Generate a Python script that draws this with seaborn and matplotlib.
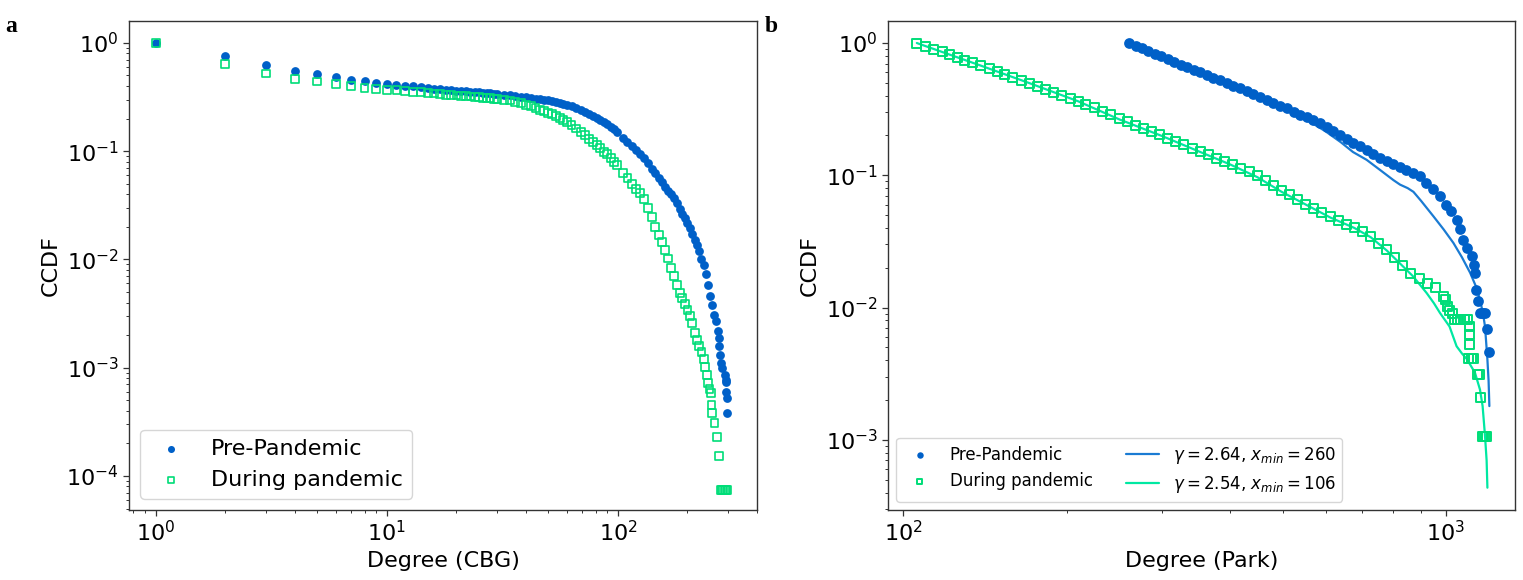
import matplotlib
matplotlib.use("Agg")
import matplotlib.pyplot as plt
import matplotlib.ticker as ticker
import seaborn as sns

BLUE = "#0060c8"
GREEN = "#00dd78"
BLUE_LINE = "#1a7bd3"
GREEN_LINE = "#00e8a2"

# panel a - CBG degree CCDF
cbg_deg_pre = [1, 2, 3, 4, 5, 6, 7, 8, 9, 10, 11, 12, 13, 14, 15, 16, 17, 18, 19, 20,
               21, 22, 23, 24, 25, 26, 27, 28, 29, 30, 32, 34, 36, 38, 40, 42, 44, 46, 48,
               50, 52, 54, 56, 58, 60, 63, 66, 69, 72, 75, 78, 81, 84, 87, 90, 93, 96, 99,
               105, 110, 115, 120, 125, 130, 135, 140, 145, 150, 155, 160,
               165, 170, 175, 180, 185, 190, 195, 200, 205, 210, 215, 220, 225, 230, 235,
               240, 245, 250, 255, 260, 265, 270, 273, 275, 277, 279, 281, 290, 293, 294,
               295, 296, 298]
cbg_ccdf_pre = [1.0, 0.758, 0.626, 0.555, 0.517, 0.485, 0.458, 0.443, 0.430, 0.420, 0.412,
                0.404, 0.396, 0.390, 0.385, 0.379, 0.373, 0.369, 0.365, 0.362,
                0.359, 0.357, 0.354, 0.352, 0.350, 0.348, 0.345, 0.343, 0.340, 0.338, 0.333,
                0.329, 0.324, 0.319, 0.315, 0.311, 0.306, 0.302, 0.298, 0.294, 0.289, 0.284,
                0.278, 0.273, 0.268, 0.260, 0.251, 0.241, 0.230, 0.220, 0.211, 0.203, 0.195,
                0.187, 0.178, 0.168, 0.159, 0.149,
                0.133, 0.122, 0.112, 0.103, 0.095, 0.087, 0.077,
                0.069, 0.063, 0.057, 0.052, 0.047, 0.043, 0.040, 0.037, 0.033, 0.029, 0.0265,
                0.024, 0.0215, 0.0195, 0.017, 0.015, 0.0135, 0.012, 0.0102, 0.0088, 0.0074,
                0.0058, 0.0046, 0.0038, 0.0031, 0.0027, 0.0022, 0.0019, 0.0016, 0.0013,
                0.0011, 0.0010, 0.00085, 0.00077, 0.00074, 0.00060, 0.00053, 0.00038]

cbg_deg_dur = [1, 2, 3, 4, 5, 6, 7, 8, 9, 10, 11, 12, 13, 14, 15, 16, 17, 18, 19, 20,
               21, 22, 23, 24, 25, 26, 27, 28, 29, 30, 32, 34, 36, 38, 40, 42, 44, 46, 48,
               50, 52, 54, 56, 58, 60, 63, 66, 69, 72, 75, 78, 81, 84, 87, 90, 93, 96, 99,
               105, 110, 115, 120, 125, 130, 135, 140, 145, 150, 155, 160,
               165, 170, 175, 180, 185, 190, 195, 200, 205, 210, 215, 220, 225, 230, 235,
               238, 242, 246, 249, 252, 254, 256, 262, 269, 274, 278, 282, 286, 290, 294, 298]
cbg_ccdf_dur = [1.0, 0.644, 0.521, 0.468, 0.440, 0.415, 0.398, 0.386, 0.378, 0.370, 0.366,
                0.360, 0.355, 0.350, 0.346, 0.341, 0.336, 0.333, 0.330, 0.327,
                0.325, 0.322, 0.320, 0.317, 0.315, 0.312, 0.310, 0.307, 0.305, 0.303, 0.299,
                0.294, 0.285, 0.276, 0.268, 0.260, 0.251, 0.242, 0.233, 0.226, 0.219, 0.210,
                0.202, 0.194, 0.186, 0.173, 0.162, 0.151, 0.140, 0.130, 0.122, 0.115, 0.107,
                0.099, 0.094, 0.087, 0.079, 0.074,
                0.063, 0.056, 0.050, 0.045, 0.041, 0.036, 0.030,
                0.0245, 0.020, 0.0168, 0.0145, 0.0122, 0.0102, 0.0083, 0.0070, 0.0058, 0.0049,
                0.0044, 0.0039, 0.0034, 0.0030, 0.0026, 0.0021, 0.0018, 0.0016, 0.0014, 0.0012,
                0.00102, 0.00085, 0.00072, 0.00064, 0.00058, 0.00045, 0.00038, 0.00031,
                0.00023, 0.000153, 7.4e-5, 7.4e-5, 7.4e-5, 7.4e-5, 7.4e-5, 7.4e-5]

# panel b - park degree CCDF
park_deg_pre = [261, 268, 275, 283, 291, 299, 307, 316, 325, 334, 343, 353, 363, 373, 384,
                395, 406, 418, 430, 442, 455, 468, 481, 495, 509, 524, 539, 554, 570, 586,
                603, 620, 638, 656, 675, 694, 714, 734, 755, 777, 799, 822, 845, 869, 894,
                920, 946, 973, 1000, 1020, 1046, 1060, 1076, 1095, 1115, 1125, 1131, 1138,
                1145, 1155, 1163, 1171, 1178, 1189, 1202]
park_ccdf_pre = [1.0, 0.956, 0.914, 0.870, 0.830, 0.792, 0.757, 0.720, 0.687, 0.656, 0.628,
                 0.599, 0.572, 0.547, 0.522, 0.498, 0.476, 0.454, 0.434, 0.414, 0.393, 0.373,
                 0.355, 0.337, 0.320, 0.303, 0.288, 0.274, 0.260, 0.247, 0.231, 0.216, 0.202,
                 0.189, 0.177, 0.166, 0.155, 0.145, 0.136, 0.128, 0.121, 0.115, 0.109, 0.1035,
                 0.098, 0.0877, 0.0783, 0.0698, 0.0598, 0.0535, 0.0461, 0.0394, 0.0326,
                 0.0282, 0.0244, 0.0209, 0.0183, 0.0137, 0.0112, 0.0091, 0.0091, 0.0091,
                 0.0091, 0.0069, 0.0046]

park_deg_dur = [106, 110, 114, 118, 122, 126, 130, 134, 139, 144, 149, 154, 159, 165, 171,
                177, 183, 189, 196, 203, 210, 217, 225, 233, 241, 250, 259, 268, 277, 287,
                297, 307, 318, 329, 341, 353, 365, 378, 391, 405, 419, 434, 449, 465, 481,
                498, 515, 533, 552, 571, 591, 612, 633, 655, 678, 702, 727, 752, 778, 805,
                833, 862, 892, 923, 955, 988, 998, 1005, 1015, 1027, 1035, 1050, 1065, 1080,
                1095, 1104, 1104, 1104, 1100, 1112, 1125, 1143, 1152, 1160, 1165, 1172, 1180,
                1188]
park_ccdf_dur = [1.0, 0.948, 0.900, 0.856, 0.816, 0.779, 0.744, 0.712, 0.675, 0.641, 0.610,
                 0.580, 0.553, 0.524, 0.497, 0.471, 0.448, 0.426, 0.403, 0.382, 0.363, 0.343,
                 0.323, 0.305, 0.288, 0.270, 0.255, 0.240, 0.227, 0.214, 0.202, 0.191, 0.180,
                 0.170, 0.160, 0.151, 0.143, 0.135, 0.127, 0.120, 0.113, 0.106, 0.0991,
                 0.0908, 0.0834, 0.0766, 0.0710, 0.0656, 0.0606, 0.0561, 0.0519, 0.0485,
                 0.0456, 0.0428, 0.0402, 0.0378, 0.0345, 0.0306, 0.0274, 0.0238, 0.0207,
                 0.0182, 0.0165, 0.0153, 0.0143, 0.0122, 0.0115, 0.0102, 0.0095, 0.0091,
                 0.0081, 0.0081, 0.0081, 0.0081, 0.0081, 0.00722, 0.00625, 0.00526, 0.0041,
                 0.0041, 0.0041, 0.00312, 0.00312, 0.00208, 0.00106, 0.00106, 0.00106, 0.00106]

# power-law fit curves
fit_deg_pre = [261, 300, 350, 400, 450, 494, 540, 600, 640, 674, 714, 760, 800, 823, 850,
               871, 900, 948, 990, 1032, 1070, 1108, 1135, 1155, 1170, 1180, 1192, 1198, 1202]
fit_ccdf_pre = [1.0, 0.79, 0.605, 0.49, 0.40, 0.335, 0.28, 0.215, 0.178, 0.150, 0.131, 0.108,
                0.092, 0.085, 0.080, 0.075, 0.064, 0.049, 0.039, 0.0308, 0.024, 0.0183,
                0.0145, 0.0115, 0.009, 0.0072, 0.00405, 0.0028, 0.0018]
fit_deg_dur = [106, 139, 171, 210, 250, 300, 350, 400, 449, 498, 552, 612, 678, 727, 778,
               833, 870, 900, 921, 950, 975, 1015, 1046, 1070, 1094, 1131, 1155, 1168, 1180,
               1188, 1192]
fit_ccdf_dur = [1.0, 0.675, 0.497, 0.363, 0.265, 0.198, 0.152, 0.121, 0.097, 0.075, 0.060,
                0.048, 0.040, 0.034, 0.027, 0.0205, 0.0172, 0.0145, 0.0129, 0.0108, 0.0091,
                0.0072, 0.0051, 0.0045, 0.00405, 0.00321, 0.0024, 0.0018, 0.00107, 0.0007,
                0.000435]

fit_labels = [r'$\gamma = 2.64$, $x_{min} = 260$', r'$\gamma = 2.54$, $x_{min} = 106$']

sns.set_style("ticks", {"axes.edgecolor": "0.2", "xtick.color": "0.2", "ytick.color": "0.2",
                        "text.color": "black", "axes.labelcolor": "black"})
plt.rcParams['font.family'] = ['DejaVu Sans']

fig = plt.figure(figsize=(15.23, 5.8), dpi=100)
ax1 = fig.add_axes([129 / 1523, 70 / 580, 628 / 1523, 489.5 / 580])
ax2 = fig.add_axes([888 / 1523, 70 / 580, 627 / 1523, 489.5 / 580])

for ax in (ax1, ax2):
    ax.set_xscale('log')
    ax.set_yscale('log')

# panel a
sns.scatterplot(x=cbg_deg_pre, y=cbg_ccdf_pre, ax=ax1, color=BLUE, marker='o', s=40,
                linewidth=0, label='Pre-Pandemic')
sns.scatterplot(x=cbg_deg_dur, y=cbg_ccdf_dur, ax=ax1, marker='s', s=32, facecolors='none',
                edgecolor=GREEN, linewidth=1.2, label='During pandemic')
ax1.set_xlim(0.765, 400)
ax1.set_ylim(4.85e-5, 1.61)
ax1.set_xlabel('Degree (CBG)', fontsize=16)
ax1.set_ylabel('CCDF', fontsize=16)
ax1.legend(loc='lower left', fontsize=16, markerscale=0.8)

# panel b
sns.lineplot(x=fit_deg_pre, y=fit_ccdf_pre, ax=ax2, color=BLUE_LINE, lw=1.6, sort=False,
             estimator=None, label=fit_labels[0], zorder=1)
sns.lineplot(x=fit_deg_dur, y=fit_ccdf_dur, ax=ax2, color=GREEN_LINE, lw=1.6, sort=False,
             estimator=None, label=fit_labels[1], zorder=1)
sns.scatterplot(x=park_deg_pre, y=park_ccdf_pre, ax=ax2, color=BLUE, marker='o', s=60,
                linewidth=0, label='Pre-Pandemic', zorder=2)
sns.scatterplot(x=park_deg_dur, y=park_ccdf_dur, ax=ax2, marker='s', s=42, facecolors='none',
                edgecolor=GREEN, linewidth=1.4, label='During pandemic', zorder=2)
ax2.set_xlim(93.8, 1340)
ax2.set_ylim(2.95e-4, 1.48)
ax2.set_xlabel('Degree (Park)', fontsize=16)
ax2.set_ylabel('CCDF', fontsize=16)

handles, labels = ax2.get_legend_handles_labels()
order = ['Pre-Pandemic', 'During pandemic'] + fit_labels
hmap = dict(zip(labels, handles))
ax2.legend([hmap[k] for k in order], order, loc='lower left', ncol=2, fontsize=12,
           markerscale=0.6)

for ax in (ax1, ax2):
    ax.tick_params(axis='both', which='major', labelsize=16, length=4, width=0.9,
                   labelcolor='black')
    ax.tick_params(axis='both', which='minor', length=2, width=0.7)
    ax.yaxis.set_minor_formatter(ticker.NullFormatter())
    ax.xaxis.set_minor_formatter(ticker.NullFormatter())
    for sp in ax.spines.values():
        sp.set_linewidth(1.0)

fig.text(5 / 1523, 1 - 32 / 580, 'a', fontsize=17, fontweight='bold',
         family=['Liberation Serif', 'DejaVu Serif'])
fig.text(765 / 1523, 1 - 32 / 580, 'b', fontsize=17, fontweight='bold',
         family=['Liberation Serif', 'DejaVu Serif'])

fig.savefig('out.png', dpi=100)
